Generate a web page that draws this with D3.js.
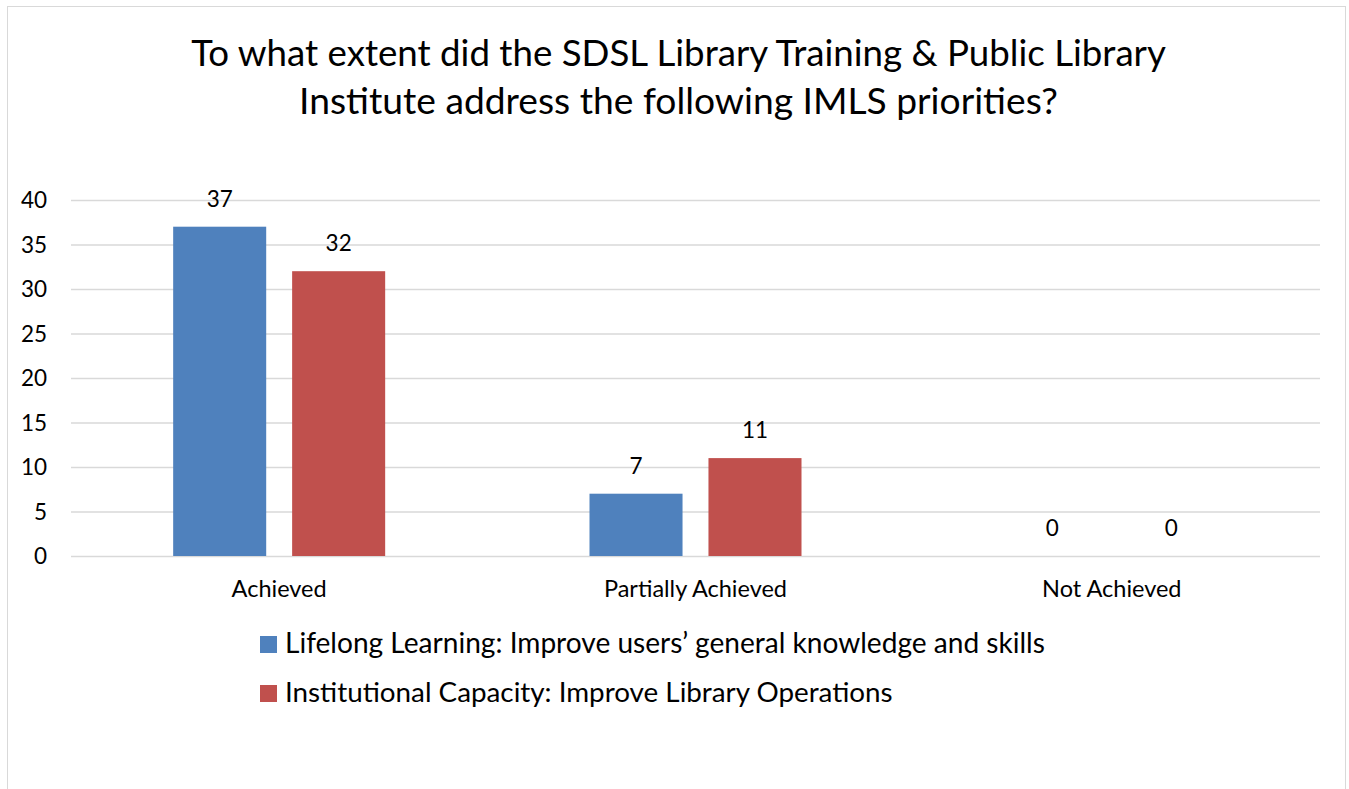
<!DOCTYPE html>
<html><head><meta charset="utf-8">
<script src="https://cdn.jsdelivr.net/npm/d3@7"></script>
<style>body{margin:0;background:#fff;}svg{display:block;font-family:Lato,"Open Sans",sans-serif;}</style>
</head><body><svg id="c" width="1349" height="789"></svg>
<script>
const titleLines = ["To what extent did the SDSL Library Training & Public Library", "Institute address the following IMLS priorities?"];
const categories = ["Achieved", "Partially Achieved", "Not Achieved"];
const seriesNames = ["Lifelong Learning: Improve users\u2019 general knowledge and skills", "Institutional Capacity: Improve Library Operations"];
const lifelong = [37, 7, 0];
const institutional = [32, 11, 0];
const yTicks = [0, 5, 10, 15, 20, 25, 30, 35, 40];
const colors = ["#4F81BD", "#C0504D"];

const svg = d3.select("#c");
svg.append("rect").attr("x",7.5).attr("y",6.5).attr("width",1338).attr("height",800).attr("fill","#fff").attr("stroke","#d9d9d9");

const m = {l:71, r:1320, t:200, b:556};
const x = d3.scaleBand().domain(categories).range([m.l, m.r]).padding(0);
const xs = d3.scaleBand().domain([0,1]).range([0, 212]).paddingInner(0.218);
const y = d3.scaleLinear().domain([0,40]).range([m.b, m.t]);

function fit(sel, w){ sel.each(function(){ const l=this.getComputedTextLength(); const fs=parseFloat(d3.select(this).attr("font-size")); d3.select(this).attr("font-size", fs*w/l); }); }

// gridlines
svg.append("g").selectAll("line").data(yTicks).join("line")
  .attr("x1",m.l).attr("x2",m.r).attr("y1",d=>y(d)+0.5).attr("y2",d=>y(d)+0.5)
  .attr("stroke","#d9d9d9").attr("stroke-width",1.5);

// y axis labels
svg.append("g").selectAll("text").data(yTicks).join("text")
  .attr("x",47).attr("y",d=>y(d)+8).attr("text-anchor","end").attr("font-size",22.5).attr("fill","#000").text(d=>d);

const series = [lifelong, institutional];
const offset = (x.bandwidth()-212)/2;
series.forEach((vals,si)=>{
  const g = svg.append("g");
  g.selectAll("rect").data(vals).join("rect")
    .attr("x",(d,i)=>x(categories[i])+offset+xs(si)).attr("width",xs.bandwidth())
    .attr("y",d=>y(d)).attr("height",d=>y(0)-y(d)).attr("fill",colors[si]);
  g.selectAll("text").data(vals).join("text")
    .attr("x",(d,i)=>x(categories[i])+offset+xs(si)+xs.bandwidth()/2)
    .attr("y",d=>y(d)-20).attr("text-anchor","middle").attr("font-size",22.5).attr("fill","#000").text(d=>d);
});

// category labels
svg.append("g").selectAll("text").data(categories).join("text")
  .attr("x",d=>x(d)+x.bandwidth()/2).attr("y",597).attr("text-anchor","middle").attr("font-size",23.5).attr("fill","#000").text(d=>d);

// title
const tw = [975, 759];
titleLines.forEach((t,i)=>{
  svg.append("text").attr("x",678.5).attr("y",66+i*48).attr("text-anchor","middle").attr("font-size",34).attr("fill","#000").text(t).call(fit, tw[i]);
});

// legend
const lw = [760, 608];
seriesNames.forEach((s,i)=>{
  svg.append("rect").attr("x",260).attr("y",636+i*49).attr("width",17).attr("height",17).attr("fill",colors[i]);
  svg.append("text").attr("x",285).attr("y",653+i*49).attr("font-size",24).attr("fill","#000").text(s).call(fit, lw[i]);
});
</script></body></html>
